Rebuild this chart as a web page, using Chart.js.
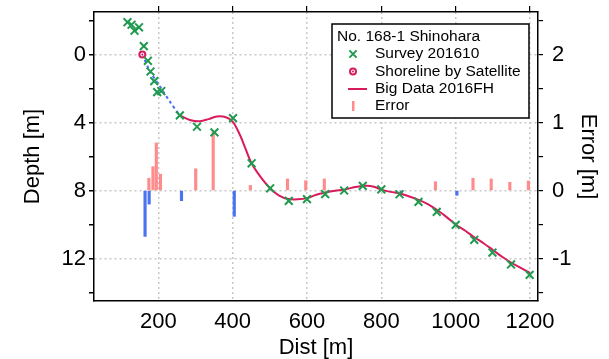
<!DOCTYPE html>
<html>
<head>
<meta charset="utf-8">
<script src="https://cdn.jsdelivr.net/npm/chart.js@4.4.1/dist/chart.umd.min.js"></script>
<style>
  html, body { margin: 0; padding: 0; background: #ffffff; }
  #wrap { width: 609px; height: 359px; position: relative; }
</style>
</head>
<body>
<div id="wrap"><canvas id="c" width="609" height="359"></canvas></div>
<script>
// ---------------- data ----------------
const chartTitle = 'No. 168-1 Shinohara';
const xTitle = 'Dist [m]';
const yTitle = 'Depth [m]';
const y2Title = 'Error [m]';

const surveyLabel = 'Survey 201610';
const surveyDist  = [117, 128, 136, 148, 161, 172, 179, 189, 197, 208, 258, 304, 351, 401, 451, 501, 551, 600, 649, 700, 750, 800, 849, 900, 949, 1000, 1050, 1099, 1149, 1199];
const surveyDepth = [-1.9, -1.75, -1.4, -1.6, -0.49, 0.37, 1.0, 1.57, 2.21, 2.15, 3.58, 4.25, 4.58, 3.74, 6.4, 7.87, 8.61, 8.51, 8.21, 8.0, 7.73, 7.93, 8.22, 8.67, 9.26, 10.02, 10.9, 11.65, 12.35, 12.96];

const satelliteLabel = 'Shoreline by Satellite';
const satelliteDist  = [157];
const satelliteDepth = [0];

const bigDataLabel = 'Big Data 2016FH';
const bigDataDist  = [258, 285, 312, 335, 357, 380, 400, 420, 433, 451, 475, 500, 525, 550, 575, 600, 625, 650, 675, 700, 730, 760, 780, 800, 825, 850, 875, 900, 925, 950, 975, 1000, 1025, 1050, 1075, 1100, 1125, 1150, 1175, 1200];
const bigDataDepth = [3.58, 3.85, 3.92, 3.8, 3.65, 3.68, 3.95, 4.75, 5.45, 6.4, 7.2, 7.85, 8.3, 8.5, 8.52, 8.45, 8.25, 8.12, 8.02, 7.95, 7.8, 7.72, 7.78, 7.95, 8.08, 8.18, 8.35, 8.55, 8.8, 9.15, 9.55, 10.0, 10.35, 10.75, 11.1, 11.5, 11.9, 12.25, 12.55, 12.85];

const extrapDist  = [157, 178, 205, 232, 258];
const extrapDepth = [0, 1.0, 1.9, 2.8, 3.58];

const errorLabel = 'Error';
const errorDist  = [161, 172, 178, 189, 198, 209, 259, 304, 351, 401, 451, 551, 600, 650, 850, 949, 1000, 1050, 1099, 1149, 1199];
const errorValue = [-0.675, -0.2, 0.18, 0.35, 0.70, 0.24, -0.15, 0.32, 0.86, -0.38, 0.075, 0.17, 0.145, 0.17, -0.03, 0.13, -0.07, 0.18, 0.17, 0.12, 0.14];

const xTicks = [200, 400, 600, 800, 1000, 1200];
const depthTicks = [-2, 0, 2, 4, 6, 8, 10, 12, 14];
const depthLabelTicks = [0, 4, 8, 12];
const errorTicks = [-1.5, -1, -0.5, 0, 0.5, 1, 1.5, 2, 2.5];
const errorLabelTicks = [-1, 0, 1, 2];

// ---------------- styles ----------------
const FONT = "'Liberation Sans', Arial, sans-serif";
const GREEN = '#1f9a4f';
const CRIMSON = '#d81b5a';
const PINK = 'rgba(255, 120, 120, 0.85)';
const BLUE = '#4a73f0';
const DASHBLUE = '#4d6bff';
const GRID = '#c8c8c8';

const pts = (xs, ys) => xs.map((x, i) => ({x: x, y: ys[i]}));
const posErr = [], negErr = [];
errorDist.forEach((d, i) => {
  if (errorValue[i] >= 0) posErr.push({x: d, y: errorValue[i]});
  else negErr.push({x: d, y: errorValue[i]});
});

const setTicks = (vals) => (axis) => { axis.ticks = vals.map(v => ({value: v})); };

const boxLegend = {
  id: 'boxLegend',
  afterDraw(chart) {
    const ctx = chart.ctx;
    const bx = 332, by = 24, bw = 197, bh = 94;
    ctx.save();
    ctx.fillStyle = '#ffffff';
    ctx.fillRect(bx, by, bw, bh);
    ctx.strokeStyle = '#000000';
    ctx.lineWidth = 1.5;
    ctx.strokeRect(bx, by, bw, bh);
    ctx.font = '15.5px ' + FONT;
    ctx.fillStyle = '#000000';
    ctx.textBaseline = 'middle';
    ctx.textAlign = 'left';
    ctx.fillText(chartTitle, 337, 37);
    const mx = 353, tx = 375;
    const rows = [54, 71.5, 89, 106];
    ctx.strokeStyle = GREEN; ctx.lineWidth = 2;
    const r = 3.6;
    ctx.beginPath();
    ctx.moveTo(mx - r, rows[0] - r); ctx.lineTo(mx + r, rows[0] + r);
    ctx.moveTo(mx - r, rows[0] + r); ctx.lineTo(mx + r, rows[0] - r);
    ctx.stroke();
    ctx.strokeStyle = CRIMSON; ctx.lineWidth = 2;
    ctx.beginPath(); ctx.arc(mx, rows[1], 3, 0, Math.PI * 2); ctx.stroke();
    ctx.fillStyle = CRIMSON;
    ctx.beginPath(); ctx.arc(mx, rows[1], 1, 0, Math.PI * 2); ctx.fill();
    ctx.strokeStyle = CRIMSON; ctx.lineWidth = 2;
    ctx.beginPath(); ctx.moveTo(348, rows[2]); ctx.lineTo(367, rows[2]); ctx.stroke();
    ctx.fillStyle = PINK;
    ctx.fillRect(mx - 1, rows[3] - 5, 2.5, 10);
    ctx.fillStyle = '#000000';
    ctx.fillText(surveyLabel, tx, rows[0]);
    ctx.fillText(satelliteLabel, tx, rows[1]);
    ctx.fillText(bigDataLabel, tx, rows[2]);
    ctx.fillText(errorLabel, tx, rows[3]);
    ctx.restore();
  }
};

const noVPad = (w) => (s) => { s.width = w; s.paddingTop = 0; s.paddingBottom = 0; };

new Chart(document.getElementById('c'), {
  type: 'bar',
  data: {
    datasets: [
      { type: 'scatter', label: surveyLabel, data: pts(surveyDist, surveyDepth), xAxisID: 'x', yAxisID: 'y',
        pointStyle: 'crossRot', pointRadius: 5.5, pointBorderWidth: 2, borderColor: GREEN, backgroundColor: GREEN, order: 0 },
      { type: 'scatter', label: satelliteLabel, data: pts(satelliteDist, satelliteDepth), xAxisID: 'x', yAxisID: 'y',
        pointStyle: 'circle', pointRadius: 3, pointBorderWidth: 2, borderColor: CRIMSON, backgroundColor: 'rgba(255,255,255,0.7)', order: 0 },
      { type: 'scatter', label: '', data: pts(satelliteDist, satelliteDepth), xAxisID: 'x', yAxisID: 'y',
        pointStyle: 'circle', pointRadius: 1, pointBorderWidth: 0, borderColor: CRIMSON, backgroundColor: CRIMSON, order: -1 },
      { type: 'line', label: bigDataLabel, data: pts(bigDataDist, bigDataDepth), xAxisID: 'x', yAxisID: 'y',
        borderColor: CRIMSON, borderWidth: 2, pointRadius: 0, tension: 0.35, fill: false, order: 1 },
      { type: 'line', label: '', data: pts(extrapDist, extrapDepth), xAxisID: 'x', yAxisID: 'y',
        borderColor: DASHBLUE, borderWidth: 2, borderDash: [3, 3], pointRadius: 0, tension: 0.3, fill: false, order: 2 },
      { type: 'bar', label: errorLabel, data: posErr, xAxisID: 'x', yAxisID: 'y2',
        backgroundColor: PINK, borderWidth: 0, barThickness: 2.5, order: 3 },
      { type: 'bar', label: '', data: negErr, xAxisID: 'x', yAxisID: 'y2',
        backgroundColor: BLUE, borderWidth: 0, barThickness: 2.5, order: 3 }
    ]
  },
  options: {
    responsive: false,
    animation: false,
    events: [],
    layout: { padding: 0 },
    plugins: { legend: { display: false }, tooltip: { enabled: false } },
    scales: {
      x: {
        type: 'linear', position: 'bottom', min: 27, max: 1221.5, offset: false,
        afterBuildTicks: setTicks(xTicks),
        afterFit: (s) => { s.height = 58; },
        grid: { color: GRID, lineWidth: 1.5, drawTicks: false, offset: false },
        border: { display: true, color: '#000', width: 1.5, dash: [2, 3] },
        ticks: { color: '#000', font: { family: FONT, size: 22 }, padding: 8, maxRotation: 0, autoSkip: false,
          callback: (v) => String(v) },
        title: { display: true, text: xTitle, color: '#000', font: { family: FONT, size: 22, lineHeight: 1 }, padding: { top: 0, bottom: 0 } }
      },
      x2: {
        type: 'linear', position: 'top', min: 27, max: 1221.5, offset: false,
        afterBuildTicks: setTicks(xTicks),
        afterFit: (s) => { s.height = 12; },
        grid: { drawOnChartArea: false, color: '#000', tickColor: '#000', tickLength: 6, lineWidth: 1.2, offset: false },
        border: { display: true, color: '#000', width: 1.5 },
        ticks: { display: false }
      },
      y: {
        type: 'linear', position: 'left', reverse: true, min: -2.5, max: 14.5,
        afterBuildTicks: setTicks(depthTicks),
        afterFit: noVPad(94),
        grid: {
          color: (c) => (c.tick && depthLabelTicks.includes(c.tick.value)) ? GRID : 'rgba(0,0,0,0)',
          tickColor: '#000', tickLength: 5, lineWidth: 1.5
        },
        border: { display: true, color: '#000', width: 1.5, dash: [2, 3] },
        ticks: {
          color: '#000', font: { family: FONT, size: 22 }, padding: 3, autoSkip: false,
          callback: (v) => depthLabelTicks.includes(v) ? String(v) : ''
        },
        title: { display: true, text: yTitle, color: '#000', font: { family: FONT, size: 22, lineHeight: 1 }, padding: { top: 22, bottom: 0 } }
      },
      y2: {
        type: 'linear', position: 'right', min: -1.625, max: 2.625,
        afterBuildTicks: setTicks(errorTicks),
        afterFit: noVPad(71),
        grid: { drawOnChartArea: false, color: '#000', tickColor: '#000', tickLength: 5, lineWidth: 1.2 },
        border: { display: true, color: '#000', width: 1.5 },
        ticks: {
          color: '#000', font: { family: FONT, size: 22 }, padding: 9, autoSkip: false,
          callback: (v) => errorLabelTicks.includes(v) ? String(v) : ''
        },
        title: { display: true, text: y2Title, color: '#000', font: { family: FONT, size: 22, lineHeight: 1 }, padding: { top: 10, bottom: 0 } }
      }
    }
  },
  plugins: [boxLegend]
});
</script>
</body>
</html>
